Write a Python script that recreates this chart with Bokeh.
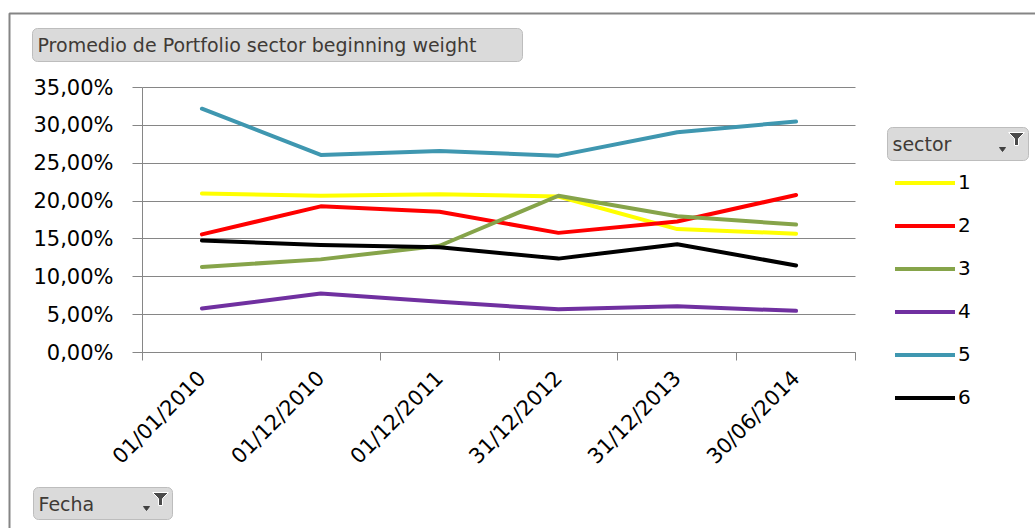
from bokeh.plotting import figure
from bokeh.models import (Range1d, FixedTicker, Legend, LegendItem, Label,
                          BoxAnnotation, PolyAnnotation)
from bokeh.embed import file_html
from bokeh.resources import INLINE

# ---- data ----
dates = ["01/01/2010", "01/12/2010", "01/12/2011", "31/12/2012", "31/12/2013", "30/06/2014"]
sector_names = ["1", "2", "3", "4", "5", "6"]
s1 = [21.0, 20.7, 20.9, 20.6, 16.3, 15.7]
s2 = [15.6, 19.3, 18.6, 15.8, 17.3, 20.8]
s3 = [11.3, 12.3, 14.1, 20.7, 18.0, 16.9]
s4 = [5.8, 7.8, 6.7, 5.7, 6.1, 5.5]
s5 = [32.2, 26.1, 26.6, 26.0, 29.1, 30.5]
s6 = [14.8, 14.2, 13.9, 12.4, 14.3, 11.5]
series = [s1, s2, s3, s4, s5, s6]
colors = ["#FFFF00", "#FF0000", "#86A44A", "#7030A0", "#3F97B0", "#000000"]
y_ticks = [0, 5, 10, 15, 20, 25, 30, 35]
y_labels = ["0,00%", "5,00%", "10,00%", "15,00%", "20,00%", "25,00%", "30,00%", "35,00%"]
title_text = "Promedio de Portfolio sector beginning weight"
legend_title = "sector"
axis_title = "Fecha"

FONT = "DejaVu Sans"
W, H = 1035, 528
# plot area (axes box) in canvas pixels
AL, AR, AT, AB = 142, 855, 87, 352
NX = len(dates)
YMAX = 35.0

# the frame covers the whole canvas; ranges are chosen so that the axes box
# lands at the pixel position of the reference chart
kx = (AR - AL) / NX
ky = (AB - AT) / YMAX
x_range = Range1d(-AL / kx, NX + (W - AR) / kx)
y_range = Range1d(-(H - AB) / ky, YMAX + AT / ky)


def fx(X):
    return X


def fy(Y):
    return H - Y


xpos = [i + 0.5 for i in range(NX)]

p = figure(width=W, height=H, output_backend="svg", toolbar_location=None,
           x_range=x_range, y_range=y_range,
           min_border=0, min_border_left=0, min_border_right=0,
           min_border_top=0, min_border_bottom=0)
p.outline_line_color = None
p.background_fill_color = "white"
p.border_fill_color = "white"

renderers = []
for vals, c in zip(series, colors):
    r = p.line(xpos, vals, line_color=c, line_width=4, line_join="round", line_cap="round")
    renderers.append(r)

# axes
xa = p.xaxis[0]
xa.fixed_location = 0
xa.bounds = (0, NX)
xa.ticker = FixedTicker(ticks=xpos, minor_ticks=list(range(NX + 1)))
xa.major_label_overrides = {x: d for x, d in zip(xpos, dates)}
xa.major_tick_out = 0
xa.major_tick_in = 0
xa.minor_tick_out = 8
xa.minor_tick_in = 0
xa.minor_tick_line_color = "#868686"
xa.axis_line_color = "#868686"
xa.major_label_orientation = 0.785398
xa.major_label_standoff = 14
xa.major_label_text_font = FONT
xa.major_label_text_font_size = "21px"
xa.major_label_text_color = "#000000"

ya = p.yaxis[0]
ya.fixed_location = 0
ya.bounds = (0, YMAX)
ya.ticker = FixedTicker(ticks=y_ticks, minor_ticks=[])
ya.major_label_overrides = {t: l for t, l in zip(y_ticks, y_labels)}
ya.major_tick_out = 10
ya.major_tick_in = 0
ya.major_tick_line_color = "#868686"
ya.axis_line_color = "#868686"
ya.major_label_standoff = 19
ya.major_label_text_font = FONT
ya.major_label_text_font_size = "21px"
ya.major_label_text_color = "#000000"

p.xgrid.grid_line_color = None
p.ygrid.grid_line_color = "#868686"
p.ygrid.grid_line_width = 1
p.ygrid.bounds = (0, YMAX)
p.ygrid.cross_bounds = (0, NX)
p.ygrid.ticker = FixedTicker(ticks=y_ticks)

# outer chart border
p.add_layout(BoxAnnotation(left=fx(9), right=fx(1045), top=fy(13), bottom=fy(545),
                           left_units="screen", right_units="screen",
                           top_units="screen", bottom_units="screen",
                           fill_color=None, line_color="#858585", line_alpha=1.0,
                           line_width=2))


def button(x0, x1, y0, y1, text, funnel=False):
    p.add_layout(BoxAnnotation(left=fx(x0), right=fx(x1), top=fy(y0), bottom=fy(y1),
                               left_units="screen", right_units="screen",
                               top_units="screen", bottom_units="screen",
                               fill_color="#DADADA", fill_alpha=1.0,
                               line_color="#BDBDBD", line_alpha=1.0, line_width=1,
                               border_radius=5))
    p.add_layout(Label(x=fx(x0 + 5), y=fy((y0 + y1) / 2), x_units="screen", y_units="screen",
                       text=text, text_font=FONT, text_font_size="19px",
                       text_color="#3F3A36", text_baseline="middle", text_align="left"))
    if funnel:
        fxr = x1 - 4
        ft = y0 + 5
        xs = [fxr - 16, fxr, fxr - 6, fxr - 6, fxr - 10, fxr - 10]
        ys = [ft, ft, ft + 6, ft + 13, ft + 13, ft + 6]
        p.add_layout(PolyAnnotation(xs=[fx(v) for v in xs], ys=[fy(v) for v in ys],
                                    xs_units="screen", ys_units="screen",
                                    fill_color="#4A4A4A", fill_alpha=1.0,
                                    line_color="#FFFFFF", line_alpha=1.0, line_width=1))
        ax = fxr - 25
        ay = y1 - 13
        p.add_layout(PolyAnnotation(xs=[fx(ax), fx(ax + 6), fx(ax + 3)],
                                    ys=[fy(ay), fy(ay), fy(ay + 4)],
                                    xs_units="screen", ys_units="screen",
                                    fill_color="#404040", fill_alpha=1.0,
                                    line_color="#404040", line_alpha=1.0, line_width=1))


button(32, 522, 28, 61, title_text)
button(887, 1028, 127, 160, legend_title, funnel=True)
button(33, 172, 487, 519, axis_title, funnel=True)

# legend
items = [LegendItem(label=n, renderers=[r]) for n, r in zip(sector_names, renderers)]
pitch = 43.4
leg_top = 180 - pitch / 2
leg_bottom = leg_top + pitch * len(items)
legend = Legend(items=items, location=(fx(895), H - leg_bottom),
                glyph_width=60, glyph_height=int(pitch), label_height=int(pitch),
                spacing=0, padding=0, margin=0, label_standoff=3,
                label_text_font=FONT, label_text_font_size="20px",
                label_text_color="#000000",
                border_line_color=None, background_fill_alpha=0)
p.add_layout(legend, "center")

open("out.html", "w").write(file_html(p, INLINE))
